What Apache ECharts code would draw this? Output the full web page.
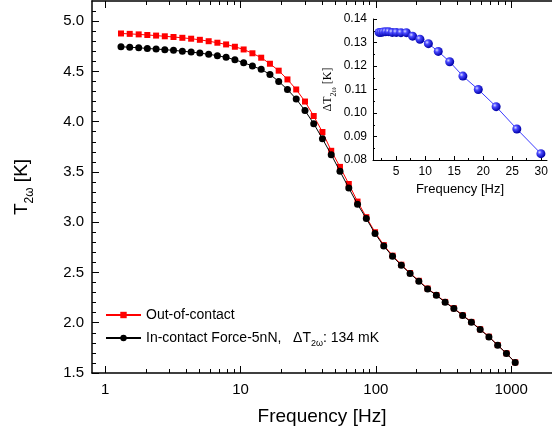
<!DOCTYPE html>
<html><head><meta charset="utf-8">
<script src="https://cdn.jsdelivr.net/npm/echarts@6/dist/echarts.min.js"></script>
<style>html,body{margin:0;padding:0;background:#fff}#c{width:552px;height:431px}</style>
</head><body><div id="c"></div>
<script>
// ---- data ----
const freq = [1.31,1.52,1.77,2.05,2.38,2.76,3.20,3.72,4.32,5.01,5.82,6.75,7.83,9.09,10.55,12.25,14.22,16.50,19.15,22.23,25.80,29.95,34.75,40.3,46.8,54.3,63.1,73.2,85.0,98.6,114.4,132.8,154.2,178.9,207.7,241.1,279.8,324.8,376.9,437.5,507.8,589.4,684.1,794.0,921.6,1069.6];
const outOfContact = [4.877,4.873,4.868,4.862,4.856,4.849,4.842,4.834,4.825,4.814,4.800,4.785,4.768,4.745,4.718,4.680,4.636,4.576,4.507,4.420,4.320,4.200,4.056,3.897,3.710,3.550,3.380,3.205,3.050,2.900,2.772,2.667,2.577,2.494,2.417,2.340,2.276,2.207,2.144,2.075,2.008,1.935,1.861,1.778,1.696,1.606];
const inContact = [4.745,4.740,4.735,4.728,4.722,4.716,4.709,4.701,4.692,4.682,4.670,4.656,4.640,4.615,4.587,4.553,4.520,4.470,4.400,4.320,4.225,4.110,3.980,3.830,3.672,3.506,3.340,3.178,3.036,2.887,2.763,2.660,2.571,2.489,2.413,2.336,2.273,2.204,2.141,2.072,2.005,1.932,1.859,1.776,1.694,1.604];
const insetFreq = [2.05,2.38,2.76,3.20,3.72,4.32,5.01,5.82,6.75,7.83,9.09,10.55,12.25,14.22,16.50,19.15,22.23,25.80,29.95];
const insetDelta = [0.1343,0.1343,0.1345,0.1346,0.1346,0.1343,0.1343,0.1342,0.1342,0.1327,0.1314,0.1295,0.1262,0.1218,0.1157,0.1100,0.1027,0.0932,0.0827];
const seriesNames = ['Out-of-contact','In-contact Force-5nN'];
const mainXTicks = [1,10,100,1000];
const mainXMinor = [2,3,4,5,6,7,8,9,20,30,40,50,60,70,80,90,200,300,400,500,600,700,800,900];
const mainYTicks = [1.5,2.0,2.5,3.0,3.5,4.0,4.5,5.0];
const mainYMinor = [1.6,1.7,1.8,1.9,2.1,2.2,2.3,2.4,2.6,2.7,2.8,2.9,3.1,3.2,3.3,3.4,3.6,3.7,3.8,3.9,4.1,4.2,4.3,4.4,4.6,4.7,4.8,4.9,5.1];
const insetXTicks = [5,10,15,20,25,30];
const insetXMinor = [2.5,7.5,12.5,17.5,22.5,27.5];

const FONT = 'Arial, "Liberation Sans", sans-serif';
const SERIF = '"Liberation Serif", "Times New Roman", serif';
const pair = (xs, ys) => xs.map((x, i) => [x, ys[i]]);
const chart = echarts.init(document.getElementById('c'), null, {renderer: 'canvas'});

const lineBlack = {show: true, lineStyle: {color: '#000', width: 1.5}, onZero: false};
const mainLogX = (pos, ticks, len, showLine, labels) => ({
  type: 'log', logBase: 10, gridIndex: 0, position: pos, min: 0.8, max: 2000,
  axisLine: showLine ? lineBlack : {show: false, onZero: false},
  axisTick: {show: true, inside: true, length: len, customValues: ticks, lineStyle: {color: '#000', width: 1}},
  axisLabel: labels ? {show: true, customValues: ticks, formatter: v => String(Math.round(v)),
    color: '#000', fontSize: 15, fontFamily: FONT, margin: 9} : {show: false},
  splitLine: {show: false}, minorTick: {show: false}
});

const sphere = {
  type: 'radial', x: 0.35, y: 0.35, r: 0.65,
  colorStops: [{offset: 0, color: '#d8d8ff'}, {offset: 0.35, color: '#4848ff'}, {offset: 1, color: '#0000a8'}]
};

const option = {
  backgroundColor: '#fff',
  animation: false,
  textStyle: {fontFamily: FONT},
  grid: [
    {left: 92, top: 1, right: -3, bottom: 58, containLabel: false},
    {left: 373, top: 19, width: 174, height: 141, containLabel: false}
  ],
  legend: {
    show: true, orient: 'vertical', left: 105, top: 308, padding: 0, itemGap: 9,
    itemWidth: 35, itemHeight: 8,
    data: seriesNames,
    textStyle: {fontSize: 14, color: '#000', fontFamily: FONT,
      rich: {s: {fontSize: 9, fontFamily: FONT, verticalAlign: 'bottom', lineHeight: 9, padding: [0, 0, -3, 0]}}},
    formatter: n => n === seriesNames[1] ? n + ',   \u0394T{s|2\u03c9}: 134 mK' : n
  },
  xAxis: [
    Object.assign(mainLogX('bottom', mainXTicks, 7, true, true), {
      name: 'Frequency [Hz]', nameLocation: 'middle', nameGap: 34,
      nameTextStyle: {fontSize: 19, color: '#000', fontFamily: FONT}
    }),
    mainLogX('bottom', mainXMinor, 4, false, false),
    mainLogX('top', mainXTicks, 7, true, false),
    mainLogX('top', mainXMinor, 4, false, false),
    {
      type: 'value', gridIndex: 1, position: 'bottom', min: 1, max: 31,
      axisLine: {show: true, onZero: false, lineStyle: {color: '#000', width: 1}},
      axisTick: {show: true, inside: true, length: 4, customValues: insetXTicks, lineStyle: {color: '#000'}},
      axisLabel: {show: true, customValues: insetXTicks, color: '#000', fontSize: 12, fontFamily: FONT, margin: 6},
      splitLine: {show: false},
      name: 'Frequency [Hz]', nameLocation: 'middle', nameGap: 23,
      nameTextStyle: {fontSize: 13, color: '#000', fontFamily: FONT}
    },
    {
      type: 'value', gridIndex: 1, position: 'bottom', min: 1, max: 31,
      axisLine: {show: false, onZero: false},
      axisTick: {show: true, inside: true, length: 2, customValues: insetXMinor, lineStyle: {color: '#000'}},
      axisLabel: {show: false}, splitLine: {show: false}
    }
  ],
  yAxis: [
    {
      type: 'value', gridIndex: 0, position: 'left', min: 1.5, max: 5.2, interval: 0.5,
      axisLine: lineBlack,
      axisTick: {show: true, inside: true, length: 7, customValues: mainYTicks, lineStyle: {color: '#000'}},
      axisLabel: {show: true, customValues: mainYTicks, formatter: v => Number(v).toFixed(1),
        color: '#000', fontSize: 15, fontFamily: FONT, margin: 8},
      splitLine: {show: false},
      name: '{t|T}{s|2\u03c9}{t| [K]}', nameLocation: 'middle', nameGap: 58, nameRotate: 90,
      nameTextStyle: {color: '#000', rich: {
        t: {fontSize: 19, fontFamily: FONT, lineHeight: 24},
        s: {fontSize: 12, fontFamily: FONT, verticalAlign: 'bottom', lineHeight: 12, padding: [0, 0, -2, 0]}
      }}
    },
    {
      type: 'value', gridIndex: 0, position: 'left', min: 1.5, max: 5.2,
      axisLine: {show: false, onZero: false},
      axisTick: {show: true, inside: true, length: 4, customValues: mainYMinor, lineStyle: {color: '#000'}},
      axisLabel: {show: false}, splitLine: {show: false}
    },
    {
      type: 'value', gridIndex: 1, position: 'left', min: 0.08, max: 0.14, interval: 0.01,
      axisLine: {show: true, onZero: false, lineStyle: {color: '#000', width: 1}},
      axisTick: {show: true, inside: true, length: 4, lineStyle: {color: '#000'}},
      minorTick: {show: true, splitNumber: 2, length: 2, lineStyle: {color: '#000'}},
      axisLabel: {show: true, formatter: v => Number(v).toFixed(2), color: '#000', fontSize: 12, fontFamily: FONT, margin: 6},
      splitLine: {show: false},
      name: '{t|\u0394T}{s|2\u03c9}{t| [K]}', nameLocation: 'middle', nameGap: 37, nameRotate: 90,
      nameTextStyle: {color: '#000', rich: {
        t: {fontSize: 12, fontFamily: SERIF, lineHeight: 16},
        s: {fontSize: 8, fontFamily: SERIF, verticalAlign: 'bottom', lineHeight: 8, padding: [0, 0, -2, 0]}
      }}
    }
  ],
  series: [
    {
      name: seriesNames[0], type: 'line', xAxisIndex: 0, yAxisIndex: 0,
      data: pair(freq, outOfContact), symbol: 'rect', symbolSize: 6, showSymbol: true,
      lineStyle: {color: '#ff0000', width: 1}, itemStyle: {color: '#ff0000'}, z: 2
    },
    {
      name: seriesNames[1], type: 'line', xAxisIndex: 0, yAxisIndex: 0,
      data: pair(freq, inContact), symbol: 'circle', symbolSize: 7, showSymbol: true,
      lineStyle: {color: '#000', width: 1}, itemStyle: {color: '#000'}, z: 3
    },
    {
      name: 'inset', type: 'line', xAxisIndex: 4, yAxisIndex: 2,
      data: pair(insetFreq, insetDelta), symbol: 'circle', symbolSize: 9, showSymbol: true,
      lineStyle: {color: '#3a3aff', width: 1}, itemStyle: {color: sphere}, z: 4
    }
  ]
};
chart.setOption(option);
</script>
</body></html>
